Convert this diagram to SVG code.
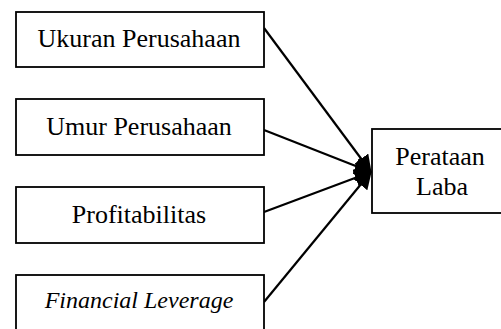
<svg xmlns="http://www.w3.org/2000/svg" width="501" height="329" viewBox="0 0 501 329">
<style>
.box{fill:#fff;stroke:#000;stroke-width:1.8}
text{font-family:'Liberation Serif','Times New Roman',serif;font-size:26px;fill:#000;text-anchor:middle}
.ti{font-size:24px;font-style:italic}
.c{stroke:#000;stroke-width:2.2;fill:none;marker-end:url(#ah)}
</style>
<defs>
<marker id="ah" markerWidth="8" markerHeight="8" refX="7.5" refY="4" orient="auto" markerUnits="strokeWidth">
<path d="M0,0 L8,4 L0,8 Z" fill="#000"/>
</marker>
</defs>
<rect width="501" height="329" fill="#fff"/>
<g id="connectors">
<line class="c" x1="264" y1="28" x2="371" y2="172"/>
<line class="c" x1="264" y1="130" x2="371" y2="172"/>
<line class="c" x1="264" y1="212" x2="371" y2="172"/>
<line class="c" x1="264" y1="302" x2="371" y2="172"/>
</g>
<g id="ukuran">
<rect class="box" x="16" y="12" width="248" height="55"/>
<text x="139" y="47">Ukuran Perusahaan</text>
</g>
<g id="umur">
<rect class="box" x="16" y="99" width="248" height="56"/>
<text x="139" y="135">Umur Perusahaan</text>
</g>
<g id="profit">
<rect class="box" x="16" y="187" width="248" height="56"/>
<text x="139" y="223">Profitabilitas</text>
</g>
<g id="leverage">
<rect class="box" x="16" y="275" width="248" height="60"/>
<text class="ti" x="139" y="308">Financial Leverage</text>
</g>
<g id="perataan">
<rect class="box" x="372" y="129" width="136" height="84"/>
<text x="440" y="165">Perataan</text>
<text x="442" y="195">Laba</text>
</g>
</svg>
